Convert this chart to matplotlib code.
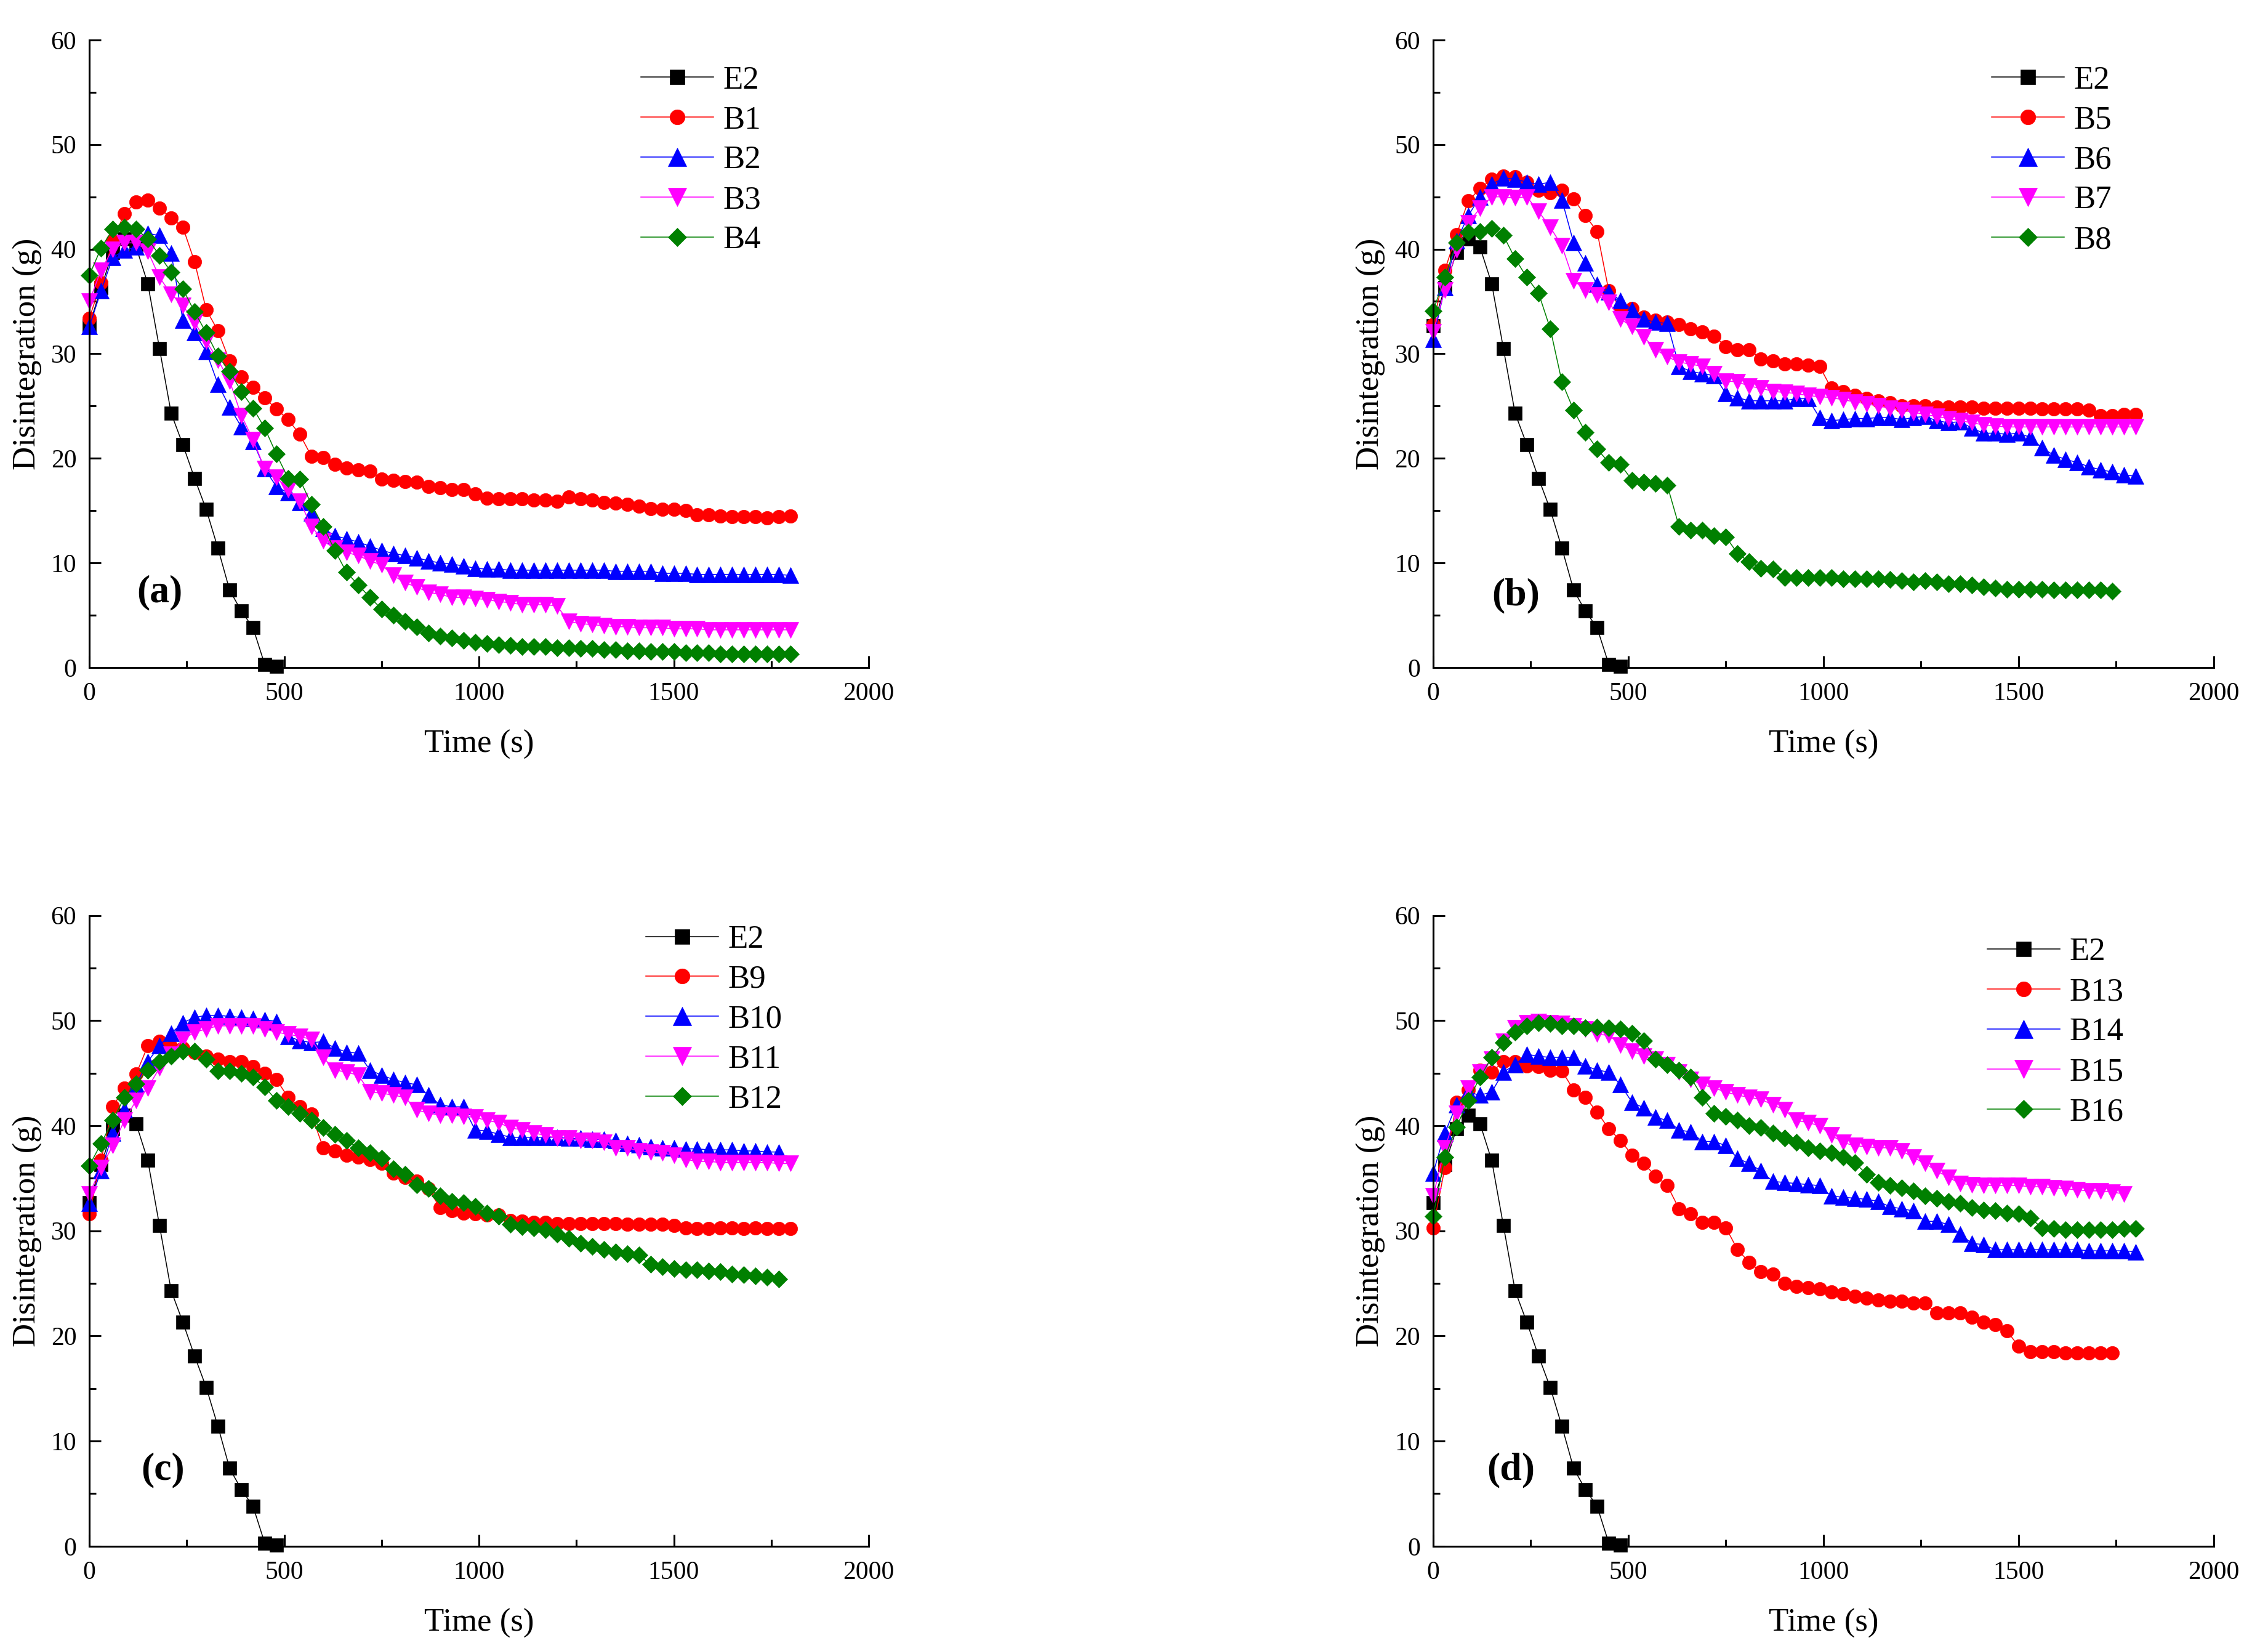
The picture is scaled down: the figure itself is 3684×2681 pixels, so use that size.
import numpy as np
import matplotlib
matplotlib.use('Agg')
import matplotlib.pyplot as plt

plt.rcParams['font.family'] = ['Liberation Serif', 'DejaVu Serif']
plt.rcParams['mathtext.fontset'] = 'stix'

# --- dados (amostragem a cada 30 s) ---
time_s = np.arange(0, 1830, 30)

E2 = [32.7, 36.3, 39.7, 41.0, 40.2, 36.7, 30.5, 24.3, 21.3, 18.1, 15.1, 11.4, 7.4, 5.4, 3.8, 0.3, 0.1]

B1 = [33.4, 36.8, 40.8, 43.4, 44.5, 44.7, 43.9, 43.0, 42.1, 38.8,
      34.2, 32.2, 29.3, 27.8, 26.8, 25.8, 24.7, 23.7, 22.3, 20.2,
      20.1, 19.4, 19.1, 18.9, 18.8, 18.0, 17.9, 17.8, 17.7, 17.3,
      17.2, 17.0, 17.0, 16.6, 16.2, 16.1, 16.1, 16.1, 16.0, 16.0,
      15.9, 16.3, 16.1, 16.0, 15.8, 15.7, 15.6, 15.4, 15.2, 15.1,
      15.1, 15.0, 14.6, 14.6, 14.5, 14.4, 14.4, 14.4, 14.3, 14.4,
      14.5]
B2 = [32.6, 36.0, 39.2, 39.9, 40.2, 41.5, 41.3, 39.6, 33.2, 32.0,
      30.2, 27.1, 24.9, 23.0, 21.6, 19.0, 17.3, 16.7, 15.8, 14.8,
      13.3, 12.6, 12.3, 12.0, 11.6, 11.2, 10.9, 10.7, 10.5, 10.2,
      10.0, 9.9, 9.7, 9.5, 9.4, 9.4, 9.3, 9.3, 9.3, 9.3,
      9.3, 9.3, 9.3, 9.3, 9.3, 9.2, 9.2, 9.2, 9.2, 9.0,
      9.0, 9.0, 8.9, 8.9, 8.9, 8.9, 8.9, 8.9, 8.9, 8.9,
      8.8]
B3 = [35.0, 38.0, 40.0, 40.6, 40.6, 39.8, 37.3, 35.7, 34.6, 33.0,
      31.2, 29.4, 27.4, 24.1, 21.8, 19.0, 18.2, 17.0, 15.9, 13.5,
      12.1, 11.4, 11.0, 10.7, 10.2, 9.8, 8.8, 8.1, 7.7, 7.2,
      7.0, 6.7, 6.7, 6.6, 6.5, 6.3, 6.2, 6.0, 6.0, 6.0,
      5.9, 4.4, 4.2, 4.1, 4.0, 3.9, 3.9, 3.8, 3.8, 3.8,
      3.7, 3.7, 3.7, 3.6, 3.6, 3.6, 3.6, 3.6, 3.6, 3.6,
      3.6]
B4 = [37.5, 40.1, 41.9, 42.1, 41.9, 41.0, 39.4, 37.8, 36.2, 34.0,
      32.0, 29.8, 28.3, 26.4, 24.8, 22.9, 20.4, 18.1, 18.0, 15.6,
      13.5, 11.2, 9.1, 7.9, 6.7, 5.6, 5.0, 4.4, 3.9, 3.3,
      3.0, 2.8, 2.6, 2.4, 2.3, 2.2, 2.1, 2.0, 2.0, 2.0,
      1.9, 1.9, 1.8, 1.8, 1.7, 1.7, 1.6, 1.6, 1.5, 1.5,
      1.5, 1.4, 1.4, 1.4, 1.3, 1.3, 1.3, 1.3, 1.3, 1.3,
      1.3]

B5 = [32.8, 38.0, 41.4, 44.6, 45.8, 46.7, 47.0, 46.9, 46.4, 45.6,
      45.4, 45.6, 44.8, 43.2, 41.7, 36.0, 34.4, 34.3, 33.5, 33.2,
      33.0, 32.8, 32.4, 32.1, 31.7, 30.7, 30.4, 30.4, 29.5, 29.3,
      29.0, 29.0, 28.9, 28.8, 26.7, 26.4, 26.0, 25.7, 25.5, 25.3,
      25.0, 25.0, 25.0, 24.9, 24.9, 24.9, 24.9, 24.8, 24.8, 24.8,
      24.8, 24.8, 24.7, 24.7, 24.7, 24.7, 24.6, 24.1, 24.1, 24.2,
      24.2]
B6 = [31.4, 36.3, 40.8, 43.2, 45.0, 46.2, 46.8, 46.7, 46.4, 46.2,
      46.4, 44.7, 40.6, 38.7, 36.6, 35.9, 35.1, 34.2, 33.3, 33.0,
      32.9, 28.8, 28.3, 28.1, 27.9, 26.2, 25.8, 25.5, 25.5, 25.5,
      25.5, 25.7, 25.7, 23.9, 23.6, 23.7, 23.8, 23.8, 23.9, 23.9,
      23.7, 23.9, 24.0, 23.6, 23.4, 23.5, 22.9, 22.4, 22.4, 22.3,
      22.4, 22.0, 21.0, 20.3, 19.9, 19.6, 19.2, 18.9, 18.7, 18.4,
      18.3]
B7 = [32.1, 36.1, 39.9, 42.5, 43.9, 45.0, 45.0, 44.9, 45.0, 43.6,
      42.1, 40.3, 37.0, 36.1, 35.6, 34.9, 33.3, 32.6, 31.6, 30.4,
      29.7, 29.2, 29.0, 28.8, 28.1, 27.4, 27.3, 26.9, 26.7, 26.4,
      26.3, 26.2, 26.0, 25.9, 25.8, 25.6, 25.4, 25.2, 25.0, 24.8,
      24.6, 24.4, 24.2, 24.0, 23.8, 23.6, 23.4, 23.2, 23.1, 23.0,
      23.0, 23.0, 23.0, 23.0, 23.0, 23.0, 23.0, 23.0, 23.0, 23.0,
      23.0]
B8 = [34.1, 37.3, 40.6, 41.6, 41.7, 42.0, 41.3, 39.1, 37.3, 35.8,
      32.4, 27.3, 24.6, 22.5, 20.9, 19.6, 19.4, 17.9, 17.7, 17.6,
      17.4, 13.5, 13.1, 13.1, 12.6, 12.5, 10.9, 10.1, 9.5, 9.4,
      8.6, 8.6, 8.6, 8.6, 8.6, 8.5, 8.5, 8.5, 8.5, 8.4,
      8.3, 8.2, 8.3, 8.2, 8.0, 8.0, 7.9, 7.7, 7.6, 7.5,
      7.5, 7.5, 7.5, 7.4, 7.4, 7.4, 7.4, 7.4, 7.3]

B9 = [31.6, 36.7, 41.8, 43.6, 44.9, 47.6, 48.0, 47.5, 47.4, 47.0,
      46.6, 46.3, 46.1, 46.1, 45.6, 45.0, 44.4, 42.7, 41.8, 41.1,
      37.9, 37.6, 37.2, 37.0, 36.8, 36.4, 35.5, 35.1, 34.7, 34.0,
      32.2, 31.9, 31.7, 31.6, 31.5, 31.5, 31.0, 30.9, 30.8, 30.8,
      30.7, 30.7, 30.7, 30.7, 30.7, 30.7, 30.6, 30.6, 30.6, 30.6,
      30.5, 30.3, 30.2, 30.2, 30.3, 30.3, 30.2, 30.3, 30.2, 30.2,
      30.2]
B10 = [32.6, 35.7, 39.3, 41.5, 43.9, 46.1, 47.6, 48.8, 49.8, 50.3,
       50.5, 50.5, 50.4, 50.3, 50.2, 50.1, 49.9, 48.5, 48.1, 47.9,
       48.0, 47.4, 47.0, 46.9, 45.3, 44.8, 44.4, 44.1, 43.9, 42.9,
       42.0, 41.8, 41.8, 39.6, 39.5, 39.2, 38.9, 38.9, 38.9, 38.9,
       38.9, 38.8, 38.8, 38.7, 38.7, 38.6, 38.3, 38.2, 38.0, 37.9,
       37.9, 37.8, 37.8, 37.7, 37.7, 37.7, 37.6, 37.6, 37.5, 37.5]
B11 = [33.5, 36.0, 38.1, 40.5, 42.4, 43.6, 45.5, 46.8, 48.2, 48.9,
       49.2, 49.5, 49.5, 49.5, 49.5, 49.2, 48.9, 48.7, 48.5, 48.2,
       46.5, 45.3, 45.1, 44.8, 43.2, 43.1, 42.9, 42.7, 41.5, 41.2,
       41.0, 41.0, 40.9, 40.8, 40.5, 40.3, 39.8, 39.6, 39.3, 39.1,
       38.8, 38.8, 38.6, 38.6, 38.4, 37.9, 37.9, 37.6, 37.5, 37.4,
       37.2, 36.8, 36.6, 36.6, 36.5, 36.5, 36.5, 36.5, 36.5, 36.4,
       36.4]
B12 = [36.2, 38.3, 40.5, 42.7, 44.0, 45.3, 46.1, 46.6, 47.1, 47.1,
       46.3, 45.2, 45.2, 45.0, 44.6, 43.7, 42.4, 41.8, 41.2, 40.5,
       39.8, 39.2, 38.6, 37.9, 37.4, 36.9, 35.9, 35.4, 34.4, 34.0,
       33.3, 32.8, 32.7, 32.3, 31.7, 31.4, 30.6, 30.4, 30.3, 30.1,
       29.7, 29.3, 28.8, 28.5, 28.2, 28.0, 27.8, 27.7, 26.8, 26.6,
       26.4, 26.3, 26.3, 26.2, 26.1, 25.9, 25.8, 25.7, 25.6, 25.4]

B13 = [30.3, 36.0, 42.2, 43.4, 45.3, 45.1, 46.1, 46.1, 45.7, 45.6,
       45.3, 45.2, 43.4, 42.7, 41.3, 39.7, 38.6, 37.2, 36.4, 35.2,
       34.3, 32.1, 31.6, 30.8, 30.8, 30.3, 28.2, 27.0, 26.1, 25.9,
       25.0, 24.7, 24.6, 24.5, 24.2, 24.0, 23.8, 23.6, 23.4, 23.3,
       23.3, 23.1, 23.1, 22.2, 22.2, 22.2, 21.8, 21.3, 21.1, 20.5,
       19.0, 18.5, 18.5, 18.5, 18.4, 18.4, 18.4, 18.4, 18.4]
B14 = [35.5, 39.3, 42.0, 43.2, 42.9, 43.2, 45.1, 45.8, 46.8, 46.6,
       46.5, 46.5, 46.5, 45.7, 45.3, 45.1, 43.9, 42.2, 41.7, 40.8,
       40.5, 39.6, 39.4, 38.5, 38.5, 38.1, 36.9, 36.4, 35.7, 34.7,
       34.6, 34.5, 34.4, 34.3, 33.3, 33.2, 33.1, 33.0, 32.8, 32.3,
       32.1, 31.9, 30.9, 30.9, 30.6, 29.7, 28.8, 28.7, 28.2, 28.2,
       28.2, 28.2, 28.2, 28.2, 28.2, 28.2, 28.1, 28.1, 28.1, 28.1,
       28.0]
B15 = [33.3, 37.9, 41.2, 43.6, 45.1, 46.3, 48.0, 49.3, 49.8, 49.9,
       49.8, 49.7, 49.5, 49.2, 48.7, 48.6, 47.7, 47.1, 46.6, 46.3,
       45.8, 45.1, 44.4, 43.9, 43.6, 43.2, 42.9, 42.7, 42.5, 42.0,
       41.5, 40.5, 40.3, 40.0, 39.1, 38.4, 38.1, 38.0, 37.9, 37.9,
       37.6, 37.0, 36.4, 35.7, 35.1, 34.5, 34.4, 34.3, 34.3, 34.3,
       34.3, 34.2, 34.2, 34.1, 34.0, 33.9, 33.8, 33.8, 33.7, 33.5]
B16 = [31.4, 37.0, 39.9, 42.4, 44.6, 46.5, 47.9, 48.9, 49.5, 49.8,
       49.7, 49.5, 49.5, 49.3, 49.4, 49.3, 49.2, 48.8, 48.1, 46.3,
       45.8, 45.3, 44.6, 42.7, 41.2, 40.9, 40.5, 40.0, 39.8, 39.3,
       38.8, 38.4, 37.9, 37.6, 37.4, 37.0, 36.5, 35.4, 34.6, 34.3,
       34.1, 33.8, 33.3, 33.1, 32.8, 32.6, 32.2, 32.0, 31.9, 31.7,
       31.6, 31.2, 30.3, 30.2, 30.1, 30.1, 30.1, 30.1, 30.1, 30.2,
       30.2]

panel_tags = ['(a)', '(b)', '(c)', '(d)']
panel_series = [
    [('B1', B1), ('B2', B2), ('B3', B3), ('B4', B4)],
    [('B5', B5), ('B6', B6), ('B7', B7), ('B8', B8)],
    [('B9', B9), ('B10', B10), ('B11', B11), ('B12', B12)],
    [('B13', B13), ('B14', B14), ('B15', B15), ('B16', B16)],
]

# estilo tipo Origin
cores = ['#FF0000', '#0000FF', '#FF00FF', '#008000']
marcadores = [('o', 16), ('^', 19), ('v', 19), ('D', 14)]

# posição dos eixos na figura [esq, baixo, largura, altura]
posicoes = [
    [0.0394, 0.5957, 0.3436, 0.3801],
    [0.6319, 0.5957, 0.3442, 0.3801],
    [0.0394, 0.0635, 0.3436, 0.3820],
    [0.6319, 0.0635, 0.3442, 0.3820],
]
legenda_xy = [(0.7075, 0.959), (0.715, 0.959), (0.714, 0.985), (0.710, 0.965)]
tag_xy = [(0.09, 0.119), (0.106, 0.114), (0.094, 0.12), (0.10, 0.12)]

fig = plt.figure(figsize=(36.84, 26.81), dpi=100)

for i in range(4):
    ax = fig.add_axes(posicoes[i])

    ax.plot(time_s[:len(E2)], E2, color='black', lw=1.1, marker='s', ms=15.5,
            mew=0.5, label='E2', clip_on=False)
    for (nome, vals), cor, (mk, ms) in zip(panel_series[i], cores, marcadores):
        ax.plot(time_s[:len(vals)], vals, color=cor, lw=1.1, marker=mk, ms=ms,
                mew=0.5, label=nome, clip_on=False)

    ax.set_xlim(0, 2000)
    ax.set_ylim(0, 60)
    ax.set_xticks([0, 500, 1000, 1500, 2000])
    ax.set_xticks([250, 750, 1250, 1750], minor=True)
    ax.set_yticks(range(0, 61, 10))
    ax.set_yticks(range(5, 60, 10), minor=True)

    for lado in ['top', 'right']:
        ax.spines[lado].set_visible(False)
    for lado in ['left', 'bottom']:
        ax.spines[lado].set_linewidth(2.2)

    ax.tick_params(which='major', direction='in', length=14, width=2.2, labelsize=30)
    ax.tick_params(which='minor', direction='in', length=8, width=2.2)
    ax.tick_params(axis='x', pad=17)
    ax.tick_params(axis='y', pad=15)

    ax.set_xlabel('Time (s)', fontsize=38, labelpad=28)
    ax.set_ylabel('Disintegration (g)', fontsize=38, labelpad=10)

    ax.text(tag_xy[i][0], tag_xy[i][1], panel_tags[i], transform=ax.transAxes,
            fontsize=46, fontweight='bold', ha='center', va='center')

    ax.legend(loc='upper left', bbox_to_anchor=legenda_xy[i], frameon=False,
              fontsize=38, handlelength=2.24, handletextpad=0.29, markerscale=1.1,
              labelspacing=0.32, borderpad=0, borderaxespad=0)

fig.savefig('out.png', dpi=100)
